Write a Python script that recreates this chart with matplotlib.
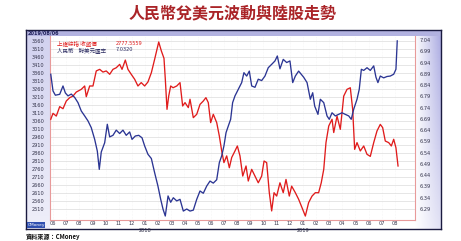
import numpy as np
import matplotlib
matplotlib.use("Agg")
import matplotlib.pyplot as plt

cjk = ['Noto Sans CJK TC', 'DejaVu Sans']

# months since 2017-06-01
sh_t = [-0.17, 0.0, 0.25, 0.51, 0.76, 1.01, 1.27, 1.52, 1.77, 2.15, 2.41, 2.53, 2.79, 3.04,
        3.29, 3.55, 3.80, 4.05, 4.31, 4.56, 4.81, 5.07, 5.25, 5.50, 5.70, 5.95, 6.21, 6.46,
        6.71, 6.97, 7.22, 7.48, 7.73, 8.04, 8.24, 8.44, 8.54, 8.67, 8.80, 8.95, 9.13, 9.41,
        9.66, 9.86, 10.04, 10.29, 10.42, 10.67, 10.93, 11.18, 11.43, 11.63, 11.81, 11.99,
        12.19, 12.45, 12.65, 12.83, 13.00, 13.21, 13.41, 13.59, 13.84, 14.02, 14.22, 14.43,
        14.68, 14.85, 15.11, 15.36, 15.61, 15.87, 16.05, 16.25, 16.45, 16.63, 16.81, 17.01,
        17.26, 17.51, 17.72, 17.97, 18.15, 18.43, 18.68, 18.94, 19.19, 19.44, 19.70, 19.95,
        20.20, 20.40, 20.59, 20.76, 20.97, 21.22, 21.35, 21.60, 21.85, 22.11, 22.36, 22.61,
        22.79, 22.94, 23.12, 23.37, 23.63, 23.88, 24.13, 24.39, 24.64, 24.89, 25.07, 25.27,
        25.53, 25.73, 25.91, 26.08, 26.24]
sh_close = [3069, 3106, 3089, 3148, 3135, 3183, 3204, 3214, 3239, 3256, 3277, 3210, 3277, 3277,
            3371, 3381, 3364, 3371, 3350, 3381, 3391, 3412, 3381, 3439, 3381, 3350, 3319, 3277,
            3298, 3277, 3302, 3360, 3444, 3552, 3496, 3450, 3321, 3131, 3214, 3277, 3266, 3277,
            3298, 3152, 3173, 3142, 3194, 3079, 3100, 3162, 3183, 3204, 3173, 3048,
            3100, 3048, 2964, 2871, 2798, 2840, 2766, 2830, 2871, 2902, 2840, 2714,
            2777, 2683, 2756, 2714, 2672, 2714, 2808, 2798, 2610, 2496, 2610, 2589,
            2672, 2610, 2693, 2589, 2651, 2610, 2569, 2516, 2464, 2548, 2589, 2610,
            2610, 2672, 2756, 2923, 3027, 3069, 2986, 3089, 3006, 3214, 3256, 3266,
            3131, 2881, 2923, 2871, 2902, 2850, 2837, 2923, 2996, 3037, 3017, 2933,
            2923, 2902, 2944, 2891, 2777]

cny_t = [-0.17, 0.0, 0.18, 0.51, 0.76, 0.94, 1.14, 1.39, 1.65, 1.90, 2.15, 2.41, 2.66, 2.91,
         3.17, 3.37, 3.52, 3.67, 3.93, 4.13, 4.31, 4.56, 4.81, 5.07, 5.32, 5.57, 5.83, 6.01,
         6.26, 6.52, 6.77, 6.97, 7.22, 7.48, 7.73, 7.98, 8.19, 8.37, 8.54, 8.75, 8.95, 9.15,
         9.41, 9.66, 9.91, 10.17, 10.42, 10.67, 10.93, 11.18, 11.43, 11.69, 11.94, 12.19,
         12.45, 12.65, 12.83, 13.00, 13.16, 13.33, 13.51, 13.66, 13.84, 14.09, 14.35, 14.52,
         14.73, 14.93, 15.11, 15.36, 15.61, 15.87, 16.12, 16.37, 16.63, 16.88, 17.06, 17.26,
         17.51, 17.77, 18.02, 18.23, 18.43, 18.68, 19.06, 19.32, 19.57, 19.75, 19.90, 20.15,
         20.33, 20.59, 20.84, 21.01, 21.22, 21.47, 21.72, 21.98, 22.23, 22.49, 22.68, 22.87,
         23.12, 23.29, 23.45, 23.63, 23.88, 24.13, 24.39, 24.56, 24.71, 24.89, 25.15, 25.40,
         25.65, 25.91, 26.08, 26.18]
cny_rate = [6.888, 6.814, 6.795, 6.799, 6.836, 6.805, 6.792, 6.800, 6.785, 6.762, 6.725, 6.703,
            6.681, 6.651, 6.599, 6.547, 6.466, 6.543, 6.584, 6.666, 6.610, 6.617, 6.640, 6.625,
            6.640, 6.617, 6.632, 6.599, 6.614, 6.617, 6.606, 6.570, 6.533, 6.514, 6.451, 6.392,
            6.333, 6.289, 6.259, 6.348, 6.320, 6.340, 6.326, 6.333, 6.281, 6.290, 6.281, 6.285,
            6.333, 6.370, 6.360, 6.392, 6.414, 6.405, 6.420, 6.496, 6.526, 6.570, 6.629, 6.658,
            6.688, 6.762, 6.792, 6.821, 6.851, 6.895, 6.880, 6.902, 6.836, 6.830, 6.866, 6.860,
            6.880, 6.917, 6.932, 6.947, 6.969, 6.912, 6.954, 6.940, 6.947, 6.851, 6.880, 6.902,
            6.875, 6.851, 6.777, 6.806, 6.747, 6.710, 6.777, 6.762, 6.703, 6.688, 6.717, 6.703,
            6.710, 6.717, 6.710, 6.703, 6.688, 6.733, 6.777, 6.821, 6.910, 6.905, 6.917, 6.905,
            6.925, 6.875, 6.851, 6.880, 6.872, 6.878, 6.880, 6.888, 6.910, 7.036]

month_labels = ['06', '07', '08', '09', '10', '11', '12', '01', '02', '03', '04', '05', '06',
                '07', '08', '09', '10', '11', '12', '01', '02', '03', '04', '05', '06', '07', '08']
year_labels = ['2018', '2019']
year_pos = [7, 19]
left_ticks = list(range(2510, 3561, 50))
right_ticks = [6.29, 6.34, 6.39, 6.44, 6.49, 6.54, 6.59, 6.64, 6.69, 6.74, 6.79, 6.84,
               6.89, 6.94, 6.99, 7.04]

W, H = 461, 241
fig = plt.figure(figsize=(W / 100, H / 100), dpi=100)
fig.patch.set_facecolor('white')

# framed panel with lavender gradient
bg = fig.add_axes([26 / W, 1 - 229 / H, 415 / W, 199 / H])
pw, ph = 415, 199
lav = np.array([0.60, 0.60, 0.86])
wcol = np.zeros(pw)
wcol[:24] = 0.45
wcol[389:] = np.linspace(0.05, 0.85, pw - 389)
wrow = np.linspace(1.0, 0.35, ph)
w = wrow[:, None] * wcol[None, :]
img = (1 - w[..., None]) * 1.0 + w[..., None] * lav
img[:6, :, :] = [0.70, 0.70, 0.88]
bg.imshow(img, aspect='auto', extent=(0, pw, ph, 0))
bg.set_xlim(0, pw)
bg.set_ylim(ph, 0)
bg.set_xticks([])
bg.set_yticks([])
for s in bg.spines.values():
    s.set_color('#1a1a40')
    s.set_linewidth(1.0)
bg.text(2, 3, '2019/08/06', fontsize=3.6, color='#20205a', va='center', ha='left',
        fontweight='bold')
bg.text(10, 195, 'CMoney', fontsize=3.2, color='white', va='center', ha='center',
        bbox=dict(boxstyle='square,pad=0.15', fc='#3050b0', ec='none'))

ax = fig.add_axes([50 / W, 1 - 220 / H, 365 / W, 184 / H])
ax.set_facecolor('white')
ax.plot(sh_t, sh_close, color='#e01c1c', lw=0.95, zorder=3)
ax.set_xlim(-0.228, 27.53)
ax.set_ylim(2439.4, 3589.4)
ax.set_yticks(left_ticks)
ax.set_yticklabels([str(v) for v in left_ticks])
ax.set_xticks(range(len(month_labels)))
ax.set_xticklabels(month_labels)
ax.tick_params(axis='both', length=0, labelsize=3.6, colors='#33334a')
ax.tick_params(axis='y', pad=4)
ax.tick_params(axis='x', pad=1)
ax.grid(axis='y', color='#dcdcdc', lw=0.5)
ax.grid(axis='x', color='#eeeeee', lw=0.4, ls=':')
ax.set_axisbelow(True)
for k in ['left', 'bottom', 'right']:
    ax.spines[k].set_color('#e89a9a')
    ax.spines[k].set_linewidth(0.8)
ax.spines['top'].set_visible(False)
for p, lab in zip(year_pos, year_labels):
    ax.text(p, -0.045, lab, transform=ax.get_xaxis_transform(), fontsize=3.6,
            color='#33334a', ha='center', va='top')

ax2 = ax.twinx()
ax2.plot(cny_t, cny_rate, color='#2b3593', lw=0.95, zorder=3)
ax2.set_ylim(6.2413, 7.0577)
ax2.set_yticks(right_ticks)
ax2.set_yticklabels([f'{v:.2f}' for v in right_ticks])
ax2.tick_params(axis='y', length=0, labelsize=3.6, colors='#33334a', pad=3)
for s in ax2.spines.values():
    s.set_visible(False)

ax.text(0.018, 0.975, '上證綜指 收盤價', transform=ax.transAxes, fontsize=4,
        color='#e01c1c', family=cjk, va='top')
ax.text(0.18, 0.975, '2777.5559', transform=ax.transAxes, fontsize=3.6,
        color='#e01c1c', va='top')
ax.text(0.018, 0.94, '人民幣    對美元匯率', transform=ax.transAxes, fontsize=4,
        color='#2a2a60', family=cjk, va='top')
ax.text(0.18, 0.94, '7.0320', transform=ax.transAxes, fontsize=3.6,
        color='#2a2a60', va='top')

fig.text(233 / W, 1 - 13 / H, '人民幣兌美元波動與陸股走勢', fontsize=11.5,
         fontweight='bold', color='#aa2428', family=cjk, ha='center', va='center')
fig.text(26 / W, 1 - 236 / H, '資料來源：CMoney', fontsize=4.4, fontweight='bold',
         color='#111111', family=cjk, ha='left', va='center')

fig.savefig('out.png', dpi=100)
